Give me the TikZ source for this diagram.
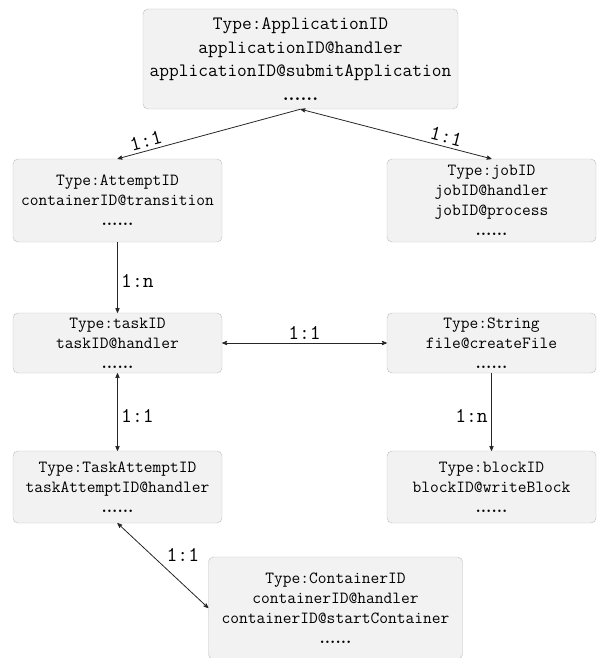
\documentclass[tikz,border=0pt]{standalone}
\usepackage{color}
\usepackage{tikz}
\usetikzlibrary{arrows}

\definecolor{idfill}{HTML}{F2F2F2}
\definecolor{idline}{HTML}{BDBDBD}
\definecolor{relline}{HTML}{262626}

\newcommand{\moredots}{{\rmfamily\bfseries......}}

\begin{document}
\begin{tikzpicture}[x=1pt,y=-1pt,>=stealth',
    id node/.style={draw=idline,fill=idfill,rounded corners=5pt,align=center,inner sep=0pt,minimum width=209pt,minimum height=60pt,font=\ttfamily\fontsize{17}{20}\selectfont},
    rel/.style={draw=relline,line width=0.8pt},
    rel label/.style={font=\ttfamily\fontsize{21}{24}\selectfont}]
      \useasboundingbox (0,0) rectangle (599,658);

      \node [id node, minimum width=315pt, minimum height=100pt, font=\ttfamily\fontsize{18.9}{23.5}\selectfont] (app) at (300.5,59)
        {Type:ApplicationID\\applicationID@handler\\applicationID@submitApplication\\\moredots};
      \node [id node, minimum height=83pt] (attempt) at (117.5,200.5) {Type:AttemptID\\containerID@transition\\\moredots};
      \node [id node, minimum height=83pt] (job) at (491.5,200.5) {Type:jobID\\jobID@handler\\jobID@process\\\moredots};
      \node [id node] (task) at (117.5,343) {Type:taskID\\taskID@handler\\\moredots};
      \node [id node] (string) at (491.5,343) {Type:String\\file@createFile\\\moredots};
      \node [id node, minimum height=72pt] (taskattempt) at (117.5,487) {Type:TaskAttemptID\\taskAttemptID@handler\\\moredots};
      \node [id node, minimum height=72pt] (block) at (491.5,487) {Type:blockID\\blockID@writeBlock\\\moredots};
      \node [id node, minimum width=254pt, minimum height=102pt] (container) at (335.5,608)
        {Type:ContainerID\\containerID@handler\\containerID@startContainer\\\moredots};

      % relations
      \draw [rel, ->] (app.south) -- node [rel label, sloped, above, pos=0.83] (r1) {1:1} (attempt.north);
      \draw [rel, <->] (app.south) -- node [rel label, sloped, above, pos=0.75] (r2) {1:1} (job.north);
      \draw [rel, ->] (attempt) -- node [rel label, right, pos=0.55] (r3) {1:n} (task);
      \draw [rel, <->] (task) -- node [rel label, above] (r4) {1:1} (string);
      \draw [rel, <->] (task) -- node [rel label, right, pos=0.55] (r5) {1:1} (taskattempt);
      \draw [rel, ->] (string) -- node [rel label, left, pos=0.55] (r6) {1:n} (block);
      \draw [rel, <->] (taskattempt.south) -- node [rel label, above right, pos=0.5] (r7) {1:1} (container.west);

    \end{tikzpicture}
\end{document}
